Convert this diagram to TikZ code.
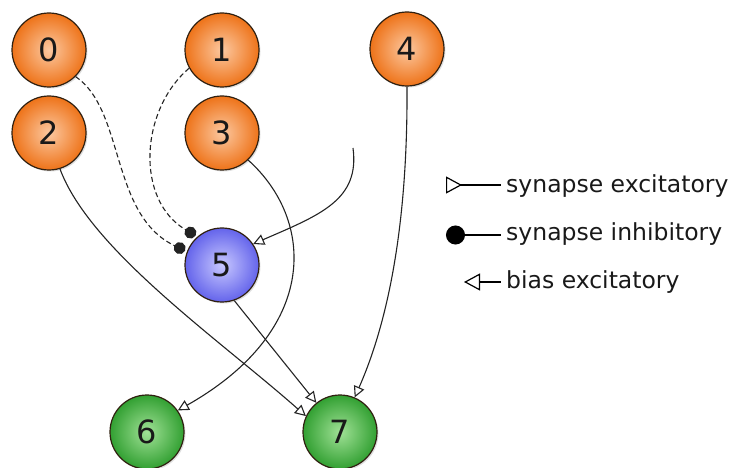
\documentclass[tikz,border=0pt]{standalone}
\usepackage{fontspec}
\setmainfont{DejaVu Sans}
\usetikzlibrary{arrows.meta,shadows}
\definecolor{orin}{RGB}{252,200,160}
\definecolor{orout}{RGB}{238,115,25}
\definecolor{blin}{RGB}{200,200,255}
\definecolor{blout}{RGB}{100,100,235}
\definecolor{grin}{RGB}{160,225,150}
\definecolor{grout}{RGB}{50,160,50}
\definecolor{edge}{RGB}{35,35,35}
\tikzset{
  neuron/.style={circle, minimum size=74pt, inner sep=0pt, draw=black!75!brown, line width=1.2pt,
    font=\fontsize{32}{34}\selectfont, text=black!90,
    drop shadow={opacity=0.25, shadow xshift=1.5pt, shadow yshift=-1.5pt}},
  orangen/.style={neuron, inner color=orin, outer color=orout},
  bluen/.style={neuron, inner color=blin, outer color=blout},
  greenn/.style={neuron, inner color=grin, outer color=grout},
  exc/.style={draw=edge, line width=1.1pt, -{Triangle[open, length=11pt, width=11pt]}},
  inh/.style={draw=edge, line width=1.1pt, dash pattern=on 5pt off 3pt, -{Circle[length=12pt]}, shorten >=2pt},
  legtext/.style={anchor=west, font=\fontsize{23.5}{25}\selectfont, text=black!90, inner sep=0pt},
  legline/.style={draw=black, line width=1.2pt}
}
\begin{document}
\begin{tikzpicture}[x=1pt, y=-1pt]
\useasboundingbox (0,0) rectangle (740,468);
\node[orangen] (n0) at (49,50) {0};
\node[orangen] (n1) at (222,50) {1};
\node[orangen] (n2) at (49,133) {2};
\node[orangen] (n3) at (222,133) {3};
\node[orangen] (n4) at (407,49) {4};
\node[bluen] (n5) at (222,265) {5};
\node[greenn] (n6) at (147,432) {6};
\node[greenn] (n7) at (340,432) {7};
\coordinate (b) at (353,148);
% connections
\draw[inh] (n0.-45) .. controls (125,110) and (110,215) .. (n5.159);
\draw[inh] (n1.209) .. controls (140,110) and (135,200) .. (n5.131);
\draw[exc] (n2.-73) .. controls (90,250) and (220,340) .. (n7.155);
\draw[exc] (n3.-46) .. controls (315,220) and (320,330) .. (n6.35);
\draw[exc] (n4.-90) .. controls (408,250) and (380,340) .. (n7.67);
\draw[exc] (b) .. controls (360,200) and (320,215) .. (n5.34);
\draw[exc] (n5.-71) -- (n7.129);
% legend
\node[legtext] (l1) at (506,186) {synapse excitatory};
\node[legtext] (l2) at (506,234) {synapse inhibitory};
\node[legtext] (l3) at (506,282) {bias excitatory};
\coordinate (a1) at (446,185);
\coordinate (a2) at (446,235);
\coordinate (a3) at (464,282);
\coordinate (e1) at (501,185);
\coordinate (e2) at (501,235);
\coordinate (e3) at (501,282);
\draw[legline, {Triangle[open, reversed, length=16pt, width=17pt]}-] (a1) -- (e1);
\draw[legline, {Circle[length=19pt]}-] (a2) -- (e2);
\draw[legline, {Triangle[open, length=16pt, width=17pt]}-] (a3) -- (e3);
\end{tikzpicture}
\end{document}
